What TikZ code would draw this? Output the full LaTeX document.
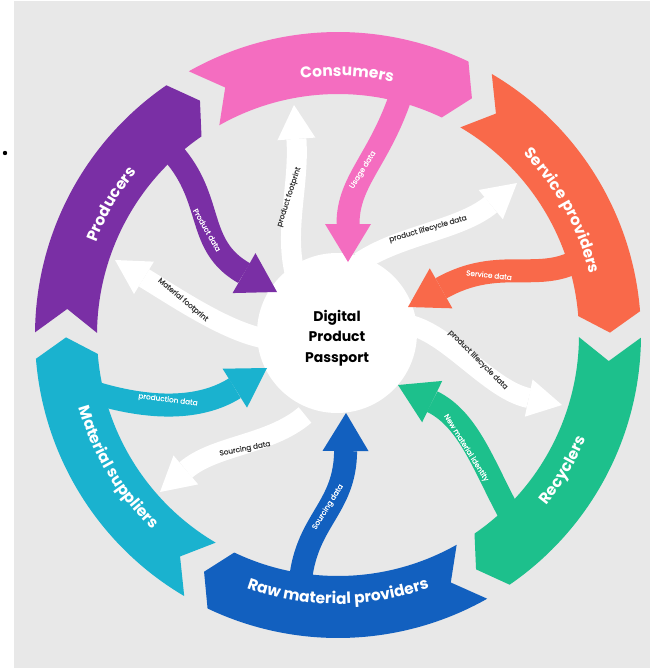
\documentclass[tikz,border=0pt]{standalone}
\usepackage{fontspec}
\setmainfont{Poppins}
\usetikzlibrary{arrows.meta,decorations.text}
\definecolor{bgc}{HTML}{E8E8E8}
\definecolor{cprod}{HTML}{7A2FA5}
\definecolor{ccons}{HTML}{F46DC0}
\definecolor{cserv}{HTML}{F9694A}
\definecolor{crecy}{HTML}{1DC08C}
\definecolor{craw}{HTML}{1260BF}
\definecolor{cmat}{HTML}{1AB2CF}
\definecolor{ctxt}{HTML}{3A3A3A}
\newcommand{\bandfont}{\color{white}\bfseries\fontsize{15.5}{18}\selectfont}
\newcommand{\bandshape}[3]{%
  \fill[#1] ({#2-0.5}:303) arc[start angle={#2-0.5}, end angle={#3+4.5}, radius=303]
   -- ({#3+0.5}:272) -- ({#3+4.5}:241)
   arc[start angle={#3+4.5}, end angle={#2-0.5}, radius=241]
   -- ({#2-5.5}:272) -- cycle;}
\tikzset{
  carrow/.style={line width=23pt, draw=#1, -{Triangle[width=46pt,length=38pt,line width=0pt]}},
  warrow/.style={line width=20pt, draw=white, -{Triangle[width=38pt,length=34pt,line width=0pt]}},
  wlbl/.style={font=\addfontfeature{FakeBold=0.6}\fontsize{7.3}{8}\selectfont, text=white, inner sep=0pt},
  dlbl/.style={font=\addfontfeature{FakeBold=0.6}\fontsize{7.3}{8}\selectfont, text=ctxt, inner sep=0pt},
  bandtext/.style={decorate, decoration={text along path, text align=center, text={|\bandfont|#1}}}
}
\begin{document}
\begin{tikzpicture}[x=1pt,y=1pt]
\useasboundingbox (0,0) rectangle (650,-670);
\fill[bgc] (14,-1) rectangle (650,-668);
\fill[black] (5,-153) circle (2.2);
% ring
\begin{scope}[shift={(338,-335)}]
  \bandshape{cprod}{180}{120}
  \bandshape{ccons}{120}{60}
  \bandshape{cserv}{60}{0}
  \bandshape{crecy}{0}{-60}
  \bandshape{craw}{-60}{-120}
  \bandshape{cmat}{240}{180}
  \path[bandtext=Consumers] (118:259) arc[start angle=118, end angle=58, radius=259];
  \path[bandtext=Service providers] (59:259) arc[start angle=59, end angle=-1, radius=259];
  \path[bandtext=Recyclers] (-61:269) arc[start angle=-61, end angle=-1, radius=269];
  \path[bandtext=Raw material providers] (-120:269) arc[start angle=-120, end angle=-60, radius=269];
  \path[bandtext=Material suppliers] (181:269) arc[start angle=181, end angle=241, radius=269];
  \path[bandtext=Producers] (180:259) arc[start angle=180, end angle=120, radius=259];
\end{scope}
% central blob
\fill[white] (337,-333) circle (80);
% white arrows
\coordinate (mfS) at (262,-338); \coordinate (mfE) at (115,-260);
\coordinate (pfS) at (300,-290); \coordinate (pfE) at (294,-105);
\coordinate (luS) at (360,-262); \coordinate (luE) at (517,-183);
\coordinate (llS) at (410,-325); \coordinate (llE) at (562,-405);
\coordinate (swS) at (305,-415); \coordinate (swE) at (160,-492);
\draw[warrow] (mfS) .. controls (225,-330) and (180,-300) .. (mfE);
\draw[warrow] (pfS) .. controls (280,-240) and (300,-190) .. (pfE);
\draw[warrow] (luS) .. controls (400,-235) and (460,-230) .. (luE);
\draw[warrow] (llS) .. controls (450,-335) and (490,-390) .. (llE);
\draw[warrow] (swS) .. controls (270,-445) and (215,-445) .. (swE);
% coloured arrows
\coordinate (pdS) at (172,-152); \coordinate (pdE) at (277,-292);
\coordinate (udS) at (402,-92);  \coordinate (udE) at (348,-262);
\coordinate (sdS) at (582,-258); \coordinate (sdE) at (408,-307);
\coordinate (nmS) at (512,-518); \coordinate (nmE) at (398,-385);
\coordinate (sbS) at (300,-585); \coordinate (sbE) at (346,-413);
\coordinate (prS) at (92,-392);  \coordinate (prE) at (267,-368);
\draw[carrow=cprod] (pdS) .. controls (215,-200) and (195,-245) .. (pdE);
\draw[carrow=ccons] (udS) .. controls (380,-160) and (348,-180) .. (udE);
\draw[carrow=cserv] (sdS) .. controls (540,-285) and (500,-255) .. (sdE);
\draw[carrow=crecy] (nmS) .. controls (485,-470) and (470,-420) .. (nmE);
\draw[carrow=craw] (sbS) .. controls (305,-520) and (345,-510) .. (sbE);
\draw[carrow=cmat] (prS) .. controls (150,-410) and (200,-410) .. (prE);
% labels
\node[wlbl, rotate=-60] (l1) at (207,-230) {Product data};
\node[dlbl, rotate=-40] (l2) at (183,-300) {Material footprint};
\node[dlbl, rotate=72] (l3) at (289,-197) {product footprint};
\node[wlbl, rotate=58] (l4) at (363,-170) {Usage data};
\node[dlbl, rotate=16] (l5) at (428,-229) {product lifecycle data};
\node[wlbl, rotate=-6] (l6) at (489,-275) {Service data};
\node[dlbl, rotate=-45] (l7) at (478,-360) {product lifecycle data};
\node[wlbl, rotate=-58] (l8) at (466,-448) {New material identity};
\node[wlbl, rotate=58] (l9) at (328,-507) {Sourcing data};
\node[dlbl, rotate=11] (l10) at (245,-449) {Sourcing data};
\node[wlbl, rotate=-7] (l11) at (168,-400) {production data};
\node[font=\bfseries\fontsize{14}{20.5}\selectfont, align=center, text=black] (dpp) at (337,-338) {Digital\\Product\\Passport};
\end{tikzpicture}
\end{document}
